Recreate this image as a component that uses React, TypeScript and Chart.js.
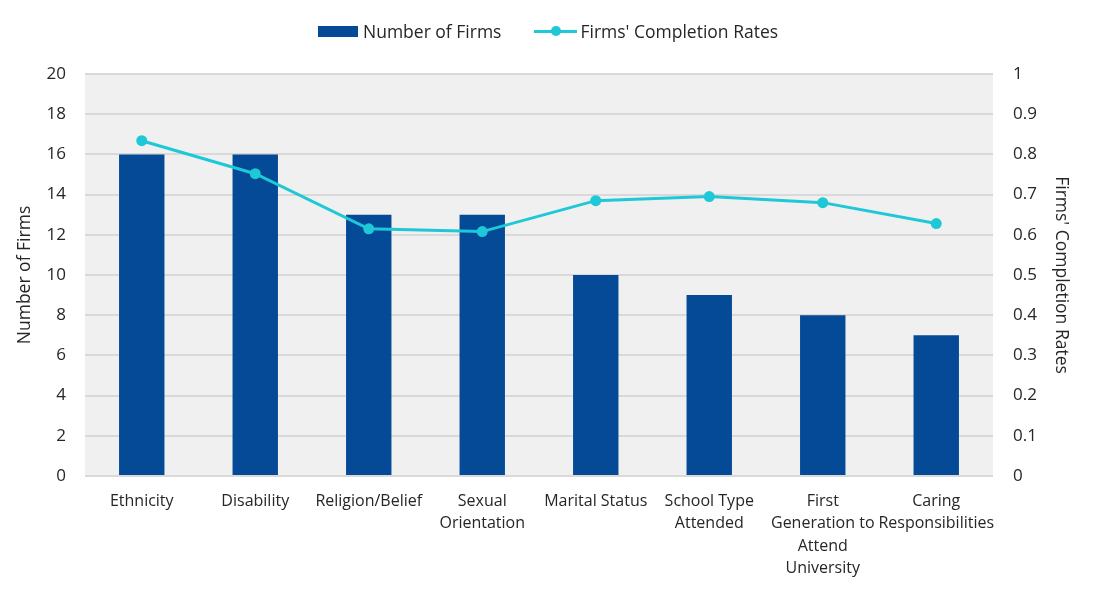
import React, { useEffect, useRef } from "react";
import { Chart, registerables } from "chart.js";

Chart.register(...registerables);

const categories: string[][] = [
  ["Ethnicity"],
  ["Disability"],
  ["Religion/Belief"],
  ["Sexual", "Orientation"],
  ["Marital Status"],
  ["School Type", "Attended"],
  ["First", "Generation to", "Attend", "University"],
  ["Caring", "Responsibilities"],
];
const numberOfFirms: number[] = [16, 16, 13, 13, 10, 9, 8, 7];
const completionRates: number[] = [0.834, 0.752, 0.615, 0.608, 0.685, 0.695, 0.68, 0.628];
const leftTicks = { min: 0, max: 20, step: 2 };
const rightTicks = { min: 0, max: 1, step: 0.1 };
const seriesNames = { bars: "Number of Firms", line: "Firms' Completion Rates" };

const BAR_COLOR = "#044a96";
const LINE_COLOR = "#1fc8d6";
const TEXT_COLOR = "#262626";
const FONT = "'Open Sans', 'Noto Sans', sans-serif";

const plotBg = {
  id: "plotBg",
  beforeDraw(chart: any) {
    const { ctx, chartArea } = chart;
    ctx.save();
    ctx.fillStyle = "#f0f0f0";
    ctx.fillRect(chartArea.left, chartArea.top, chartArea.right - chartArea.left, chartArea.bottom - chartArea.top);
    ctx.restore();
  },
};

export default function App() {
  const ref = useRef<HTMLCanvasElement | null>(null);
  useEffect(() => {
    document.body.style.margin = "0";
    const chart = new Chart(ref.current!, {
      type: "bar",
      data: {
        labels: categories,
        datasets: [
          {
            type: "line",
            label: seriesNames.line,
            data: completionRates,
            yAxisID: "y1",
            borderColor: LINE_COLOR,
            backgroundColor: LINE_COLOR,
            borderWidth: 3,
            pointRadius: 5.5,
            pointBackgroundColor: LINE_COLOR,
            pointBorderWidth: 0,
            tension: 0,
            order: 0,
          } as any,
          {
            type: "bar",
            label: seriesNames.bars,
            data: numberOfFirms,
            yAxisID: "y",
            backgroundColor: BAR_COLOR,
            categoryPercentage: 1,
            barPercentage: 0.4,
            order: 1,
          },
        ],
      },
      options: {
        animation: false,
        responsive: true,
        maintainAspectRatio: false,
        layout: { padding: { top: 74, left: 0, right: 0, bottom: 0 } },
        plugins: {
          tooltip: { enabled: false },
          legend: { display: false },
        },
        scales: {
          x: {
            grid: { display: false, drawTicks: false },
            border: { display: false },
            ticks: {
              color: TEXT_COLOR,
              font: { family: FONT, size: 16, lineHeight: 1.4 },
              maxRotation: 0,
              autoSkip: false,
              padding: 14,
            },
            afterFit: (s: any) => { s.height = 115; },
          },
          y: {
            position: "left",
            min: leftTicks.min,
            max: leftTicks.max,
            ticks: { stepSize: leftTicks.step, color: TEXT_COLOR, font: { family: FONT, size: 17 }, padding: 19 },
            grid: { color: "#d9d9d9", lineWidth: 2, drawTicks: false },
            border: { display: false },
            title: {
              display: true,
              text: seriesNames.bars,
              color: TEXT_COLOR,
              font: { family: FONT, size: 17.5 },
              padding: { top: 14.5, bottom: 0 },
            },
            afterFit: (s: any) => { s.width = 85; },
          },
          y1: {
            position: "right",
            min: rightTicks.min,
            max: rightTicks.max,
            ticks: {
              stepSize: rightTicks.step,
              color: TEXT_COLOR,
              font: { family: FONT, size: 17 },
              padding: 20,
              callback: (v: any) => String(Math.round(Number(v) * 10) / 10),
            },
            grid: { display: false, drawTicks: false },
            border: { display: false },
            title: {
              display: true,
              text: seriesNames.line,
              color: TEXT_COLOR,
              font: { family: FONT, size: 17.5 },
              padding: { top: 21.5, bottom: 0 },
            },
            afterFit: (s: any) => { s.width = 100; },
          },
        },
      },
      plugins: [plotBg],
    });
    return () => chart.destroy();
  }, []);

  const textStyle: React.CSSProperties = {
    fontFamily: FONT,
    fontSize: 17.5,
    color: TEXT_COLOR,
    lineHeight: "24px",
    whiteSpace: "nowrap",
  };
  return (
    <div style={{ position: "absolute", left: 0, top: 0, width: 1093, height: 591 }}>
      <canvas ref={ref} />
      <div
        style={{
          position: "absolute",
          left: 318,
          top: 19,
          height: 24,
          display: "flex",
          alignItems: "center",
        }}
      >
        <div style={{ width: 40, height: 11, background: BAR_COLOR, marginRight: 5 }} />
        <span style={textStyle}>{seriesNames.bars}</span>
        <div style={{ position: "relative", width: 43, height: 11, marginLeft: 33, marginRight: 3 }}>
          <div style={{ position: "absolute", left: 0, right: 0, top: 4, height: 3, background: LINE_COLOR }} />
          <div
            style={{
              position: "absolute",
              left: 16.5,
              top: 0.5,
              width: 10,
              height: 10,
              borderRadius: "50%",
              background: LINE_COLOR,
            }}
          />
        </div>
        <span style={textStyle}>{seriesNames.line}</span>
      </div>
    </div>
  );
}
